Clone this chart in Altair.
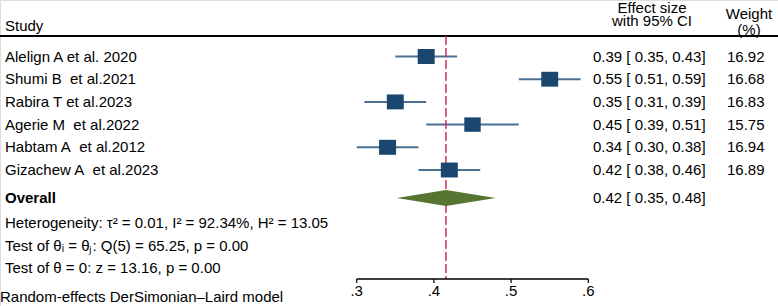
import altair as alt
import pandas as pd

# ---- data ----
studies = ["Alelign A et al. 2020", "Shumi B\u00a0 et al.2021", "Rabira T et al.2023",
           "Agerie M\u00a0 et al.2022", "Habtam A\u00a0 et al.2012", "Gizachew A\u00a0 et al.2023"]
effect = [0.39, 0.55, 0.35, 0.45, 0.34, 0.42]
lower = [0.35, 0.51, 0.31, 0.39, 0.30, 0.38]
upper = [0.43, 0.59, 0.39, 0.51, 0.38, 0.46]
weights = [16.92, 16.68, 16.83, 15.75, 16.94, 16.89]
overall_es = 0.4156
overall_lo = 0.352
overall_hi = 0.480
tick_values = [0.3, 0.4, 0.5, 0.6]
footer_lines = [
    "Heterogeneity: \u03c4\u00b2 = 0.01, I\u00b2 = 92.34%, H\u00b2 = 13.05",
    "Test of \u03b8\u1d62 = \u03b8\u2c7c: Q(5) = 65.25, p = 0.00",
    "Test of \u03b8 = 0: z = 13.16, p = 0.00",
]
model_note = "Random-effects DerSimonian\u2013Laird model"

# ---- layout (row units) ----
W, H = 778, 306
FONT = "Liberation Sans"
FS = 15
X = alt.Scale(domain=[-0.16205, 0.84573], nice=False, zero=False)
Y = alt.Scale(domain=[-2.489, 10.991], nice=False, zero=False, reverse=True)

rows = list(range(len(studies)))
r_overall = 6.233
r_header_rule = -0.903
r_axis = 9.80
r_tick_end = 9.98
r_tick_label = 10.33
r_footer = [7.313, 8.348, 9.295]
r_note = 10.595

df = pd.DataFrame({
    "study": studies, "es": effect, "lo": lower, "hi": upper, "w": weights, "r": rows,
})
df["es_txt"] = [f"{e:.2f} [ {l:.2f}, {h:.2f}]" for e, l, h in zip(effect, lower, upper)]
df["w_txt"] = [f"{w:.2f}" for w in weights]

def yq(field="r"):
    return alt.Y(f"{field}:Q", scale=Y, axis=None)

def xq(field):
    return alt.X(f"{field}:Q", scale=X, axis=None)

base = alt.Chart(df)

ci = base.mark_rule(color="#4a6f93", strokeWidth=2).encode(
    x=xq("lo"), x2="hi", y=yq())

squares = base.mark_point(
    shape="M-1,-0.88L1,-0.88L1,0.88L-1,0.88Z", filled=True, opacity=1,
    color="#1a476f", strokeWidth=0).encode(
    x=xq("es"), y=yq(),
    size=alt.Size("w:Q", scale=alt.Scale(domain=[0, 16.92], range=[0, 289], zero=True), legend=None))

vline_df = pd.DataFrame({"x": [overall_es], "r": [r_header_rule], "r2": [r_axis]})
vline = alt.Chart(vline_df).mark_rule(color="#c8305e", strokeWidth=1.5, strokeDash=[9, 3]).encode(
    x=xq("x"), y=yq(), y2="r2")

half = 0.352
dia_df = pd.DataFrame({
    "x": [overall_lo, overall_es, overall_hi],
    "top": [r_overall, r_overall - half, r_overall],
    "bot": [r_overall, r_overall + half, r_overall],
})
diamond = alt.Chart(dia_df).mark_area(color="#557530", opacity=1).encode(
    x=xq("x"), y=yq("top"), y2="bot")

# header rule
hdr_df = pd.DataFrame({"r": [r_header_rule]})
hdr_rule = alt.Chart(hdr_df).mark_rule(color="black", strokeWidth=1.8).encode(
    x=alt.value(0), x2=alt.value(W), y=yq())

# x axis drawn from tick values
ax_df = pd.DataFrame({"a": [min(tick_values)], "b": [max(tick_values)], "r": [r_axis]})
ax_line = alt.Chart(ax_df).mark_rule(color="black", strokeWidth=1.5).encode(
    x=xq("a"), x2="b", y=yq())
tk_df = pd.DataFrame({"t": tick_values, "r": [r_axis] * len(tick_values),
                      "r2": [r_tick_end] * len(tick_values),
                      "rl": [r_tick_label] * len(tick_values),
                      "lab": [f"{t:.1f}".lstrip("0") for t in tick_values]})
ticks = alt.Chart(tk_df).mark_rule(color="black", strokeWidth=1.2).encode(
    x=xq("t"), y=yq(), y2="r2")
tick_labels = alt.Chart(tk_df).mark_text(font=FONT, fontSize=FS, baseline="middle", align="center").encode(
    x=xq("t"), y=yq("rl"), text="lab:N")

# text columns
txt = dict(font=FONT, fontSize=FS, baseline="middle", color="black")
txt_a = dict(font=FONT, fontSize=FS, baseline="alphabetic", color="black")
study_txt = base.mark_text(align="left", **txt).encode(x=alt.value(5), y=yq(), text="study:N")
es_txt = base.mark_text(align="left", **txt).encode(x=alt.value(593), y=yq(), text="es_txt:N")
w_txt = base.mark_text(align="left", **txt).encode(x=alt.value(727), y=yq(), text="w_txt:N")

hdr = pd.DataFrame({
    "t": ["Study", "Effect size", "with 95% CI", "Weight", "(%)"],
    "r": [-1.145, -1.916, -1.322, -1.630, -0.947],
})
hdr_study = alt.Chart(hdr.iloc[[0]]).mark_text(align="left", **txt_a).encode(
    x=alt.value(5), y=yq(), text="t:N")
hdr_es = alt.Chart(hdr.iloc[[1, 2]]).mark_text(align="center", **txt_a).encode(
    x=alt.value(652), y=yq(), text="t:N")
hdr_w = alt.Chart(hdr.iloc[[3, 4]]).mark_text(align="center", **txt_a).encode(
    x=alt.value(749), y=yq(), text="t:N")

ov_df = pd.DataFrame({"t": ["Overall"], "r": [r_overall],
                      "es_txt": [f"{overall_es:.2f} [ {overall_lo:.2f}, {overall_hi:.2f}]"]})
ov_lab = alt.Chart(ov_df).mark_text(align="left", fontWeight="bold", **txt).encode(
    x=alt.value(5), y=yq(), text="t:N")
ov_es = alt.Chart(ov_df).mark_text(align="left", **txt).encode(
    x=alt.value(593), y=yq(), text="es_txt:N")

ft_df = pd.DataFrame({"t": footer_lines, "r": r_footer})
footer = alt.Chart(ft_df).mark_text(align="left", **txt).encode(
    x=alt.value(5), y=yq(), text="t:N")
note_df = pd.DataFrame({"t": [model_note], "r": [r_note]})
note = alt.Chart(note_df).mark_text(align="left", **txt).encode(
    x=alt.value(0), y=yq(), text="t:N")

chart = alt.layer(
    hdr_rule, ci, vline, squares, diamond, ax_line, ticks, tick_labels,
    study_txt, es_txt, w_txt, hdr_study, hdr_es, hdr_w, ov_lab, ov_es, footer, note,
).properties(
    width=W, height=H,
    autosize=alt.AutoSizeParams(type="none"),
    padding=0,
).configure_view(stroke=None).configure(background="white")

chart.save("out.html", embed_options={"renderer": "svg", "actions": False})
